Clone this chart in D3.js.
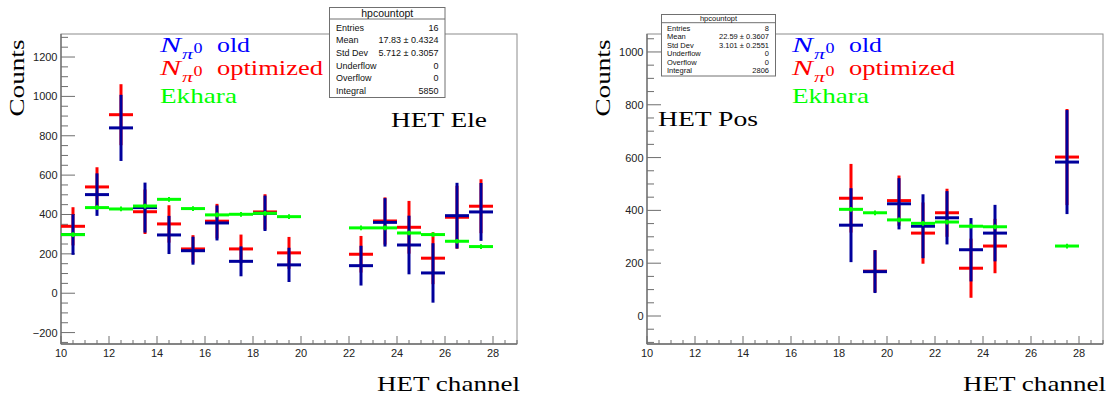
<!DOCTYPE html>
<html>
<head>
<meta charset="utf-8">
<script src="https://cdn.jsdelivr.net/npm/d3@7/dist/d3.min.js"></script>
<style>
html,body{margin:0;padding:0;background:#fff;}
svg{display:block;}
</style>
</head>
<body>
<svg id="c" width="1107" height="396"></svg>
<script>
// ---------- DATA ----------
const binsLeft = [10.5, 11.5, 12.5, 13.5, 14.5, 15.5, 16.5, 17.5, 18.5, 19.5, 22.5, 23.5, 24.5, 25.5, 26.5, 27.5];
const oldLeft = [298, 501, 840, 435, 296, 216, 357, 162, 406, 144, 140, 360, 245, 103, 394, 413];
const oldLeftErr = [103, 108, 168, 127, 97, 71, 89, 76, 90, 87, 101, 123, 149, 151, 167, 147];
const optLeft = [340, 540, 907, 414, 352, 225, 366, 225, 413, 205, 198, 367, 335, 178, 386, 442];
const optLeftErr = [97, 100, 155, 113, 95, 70, 88, 73, 90, 81, 93, 120, 134, 132, 160, 137];
const ekhLeft = [298, 435, 428, 443, 477, 430, 398, 401, 406, 389, 332, 332, 306, 298, 264, 237];
const ekhLeftErr = [12, 12, 12, 12, 12, 12, 12, 12, 12, 12, 12, 12, 12, 12, 12, 12];

const binsRight = [18.5, 19.5, 20.5, 21.5, 22.5, 23.5, 24.5, 27.5];
const oldRight = [344, 168, 425, 340, 372, 251, 314, 583];
const oldRightErr = [140, 81, 97, 121, 101, 120, 107, 197];
const optRight = [446, 170, 437, 314, 391, 181, 265, 602];
const optRightErr = [130, 80, 95, 116, 91, 112, 103, 182];
const ekhRight = [404, 391, 364, 351, 356, 340, 338, 265];
const ekhRightErr = [9, 9, 9, 9, 9, 9, 9, 9];

const xTicks = [10, 12, 14, 16, 18, 20, 22, 24, 26, 28];
const yTicksLeft = [-200, 0, 200, 400, 600, 800, 1000, 1200];
const yTicksRight = [0, 200, 400, 600, 800, 1000];

const statLabels = ["Entries", "Mean", "Std Dev", "Underflow", "Overflow", "Integral"];
const statsLeft = ["16", "17.83 \u00b1 0.4324", "5.712 \u00b1 0.3057", "0", "0", "5850"];
const statsRight = ["8", "22.59 \u00b1 0.3607", "3.101 \u00b1 0.2551", "0", "0", "2806"];
const histName = "hpcountopt";
const panelLabels = ["HET Ele", "HET Pos"];

// ---------- DRAW ----------
const svg = d3.select("#c");
const SERIF = "'Liberation Serif','DejaVu Serif',serif";
const SANS = "'Liberation Sans',Arial,sans-serif";
const BLUE = "#00009c", RED = "#ff0000", GREEN = "#00ff00";
const AX = "#6e6e6e";

function txt(g, x, y, s, o) {
  const t = g.append("text").attr("x", x).attr("y", y).text(s)
    .attr("font-family", o.family || SERIF)
    .attr("font-size", o.size || 21)
    .attr("fill", o.fill || "#000")
    .attr("text-anchor", o.anchor || "start");
  if (o.style) t.attr("font-style", o.style);
  if (o.weight) t.attr("font-weight", o.weight);
  if (o.len) t.attr("textLength", o.len).attr("lengthAdjust", "spacingAndGlyphs");
  return t;
}

function panel(cfg) {
  const g = svg.append("g");
  const x = d3.scaleLinear().domain([10, 29]).range([cfg.x0, cfg.x1]);
  const y = d3.scaleLinear().domain(cfg.ydom).range([cfg.y1, cfg.y0]);

  // frame
  g.append("rect").attr("x", cfg.x0).attr("y", cfg.y0)
    .attr("width", cfg.x1 - cfg.x0).attr("height", cfg.y1 - cfg.y0)
    .attr("fill", "none").attr("stroke", "#8c8c8c").attr("stroke-width", 1);

  // x axis ticks (inside, upward)
  const xMinor = d3.range(10, 29.001, 0.5);
  g.selectAll(null).data(xMinor).enter().append("line")
    .attr("x1", d => x(d)).attr("x2", d => x(d))
    .attr("y1", cfg.y1).attr("y2", d => cfg.y1 - (Math.abs(d % 2) < 1e-6 ? 8 : 4))
    .attr("stroke", AX).attr("stroke-width", 1);
  g.selectAll(null).data(cfg.xTicks).enter().append("text")
    .attr("x", d => x(d)).attr("y", 357).text(d => d)
    .attr("font-family", SANS).attr("font-size", 11).attr("fill", "#222")
    .attr("text-anchor", "middle");

  // y axis ticks (inside, rightward)
  const yMinor = d3.range(Math.ceil(cfg.ydom[0] / 50) * 50, cfg.ydom[1], 50);
  g.selectAll(null).data(yMinor).enter().append("line")
    .attr("x1", cfg.x0).attr("x2", d => cfg.x0 + (Math.abs(d % 200) < 1e-6 ? 14 : 7))
    .attr("y1", d => y(d)).attr("y2", d => y(d))
    .attr("stroke", AX).attr("stroke-width", 1);
  g.selectAll(null).data(cfg.yTicks).enter().append("text")
    .attr("x", cfg.x0 - 3.5).attr("y", d => y(d) + 4).text(d => d < 0 ? "\u2212" + (-d) : d)
    .attr("font-family", SANS).attr("font-size", 11).attr("fill", "#222")
    .attr("text-anchor", "end");

  // x axis line / y axis line darker
  g.append("line").attr("x1", cfg.x0).attr("x2", cfg.x1).attr("y1", cfg.y1).attr("y2", cfg.y1)
    .attr("stroke", AX).attr("stroke-width", 1.3);
  g.append("line").attr("x1", cfg.x0).attr("x2", cfg.x0).attr("y1", cfg.y0).attr("y2", cfg.y1)
    .attr("stroke", AX).attr("stroke-width", 1.3);

  // series
  function series(bins, vals, errs, color, w, ew) {
    const s = g.append("g");
    bins.forEach((b, i) => {
      s.append("line").attr("x1", x(b - 0.5)).attr("x2", x(b + 0.5))
        .attr("y1", y(vals[i])).attr("y2", y(vals[i]))
        .attr("stroke", color).attr("stroke-width", w);
      s.append("line").attr("x1", x(b)).attr("x2", x(b))
        .attr("y1", y(vals[i] - errs[i])).attr("y2", y(vals[i] + errs[i]))
        .attr("stroke", color).attr("stroke-width", ew);
    });
  }
  series(cfg.bins, cfg.opt, cfg.optErr, RED, 3, 3);
  series(cfg.bins, cfg.old, cfg.oldErr, BLUE, 3, 3);
  series(cfg.bins, cfg.ekh, cfg.ekhErr, GREEN, 3, 2);

  // axis titles
  txt(g, cfg.x1 + 3, 391, "HET channel", {size: 21, anchor: "end", len: 143});
  g.append("text").attr("transform", `translate(${cfg.x0 - 37},78) rotate(-90)`)
    .attr("text-anchor", "middle").attr("font-family", SERIF).attr("font-size", 22)
    .attr("textLength", 77).attr("lengthAdjust", "spacingAndGlyphs").text("Counts");

  // panel label
  txt(g, cfg.lab[0], cfg.lab[1], cfg.label, {size: 21, len: cfg.lab[2]});

  // legend
  const lx = cfg.leg;
  const L = [[52, BLUE_T = "#0000ff", "old", 33], [75, RED, "optimized", 106]];
  L.forEach(([by, col, word, wl]) => {
    txt(g, lx, by, "N", {size: 22, style: "italic", fill: col, len: 21});
    txt(g, lx + 22, by + 7, "\u03c0", {size: 15, style: "italic", fill: col, len: 11});
    txt(g, lx + 33.5, by + 1, "0", {size: 14, fill: col, len: 9});
    txt(g, lx + 57, by, word, {size: 21, fill: col, len: wl});
  });
  txt(g, lx, 103, "Ekhara", {size: 21, fill: GREEN, len: 77});

  // stats box
  const sb = cfg.stat;
  const sg = g.append("g");
  sg.append("rect").attr("x", sb.x).attr("y", sb.y).attr("width", sb.w).attr("height", sb.h)
    .attr("fill", "#fff").attr("stroke", "#707070").attr("stroke-width", 1);
  sg.append("line").attr("x1", sb.x).attr("x2", sb.x + sb.w).attr("y1", sb.sep).attr("y2", sb.sep)
    .attr("stroke", "#707070").attr("stroke-width", 1);
  txt(sg, sb.x + sb.w / 2, sb.tb, histName, {family: SANS, size: sb.tfs, anchor: "middle", fill: "#111"});
  statLabels.forEach((lab, i) => {
    const by = sb.r0 + i * sb.dr;
    txt(sg, sb.lx, by, lab, {family: SANS, size: sb.fs, fill: "#111"});
    txt(sg, sb.rx, by, cfg.stats[i], {family: SANS, size: sb.fs, anchor: "end", fill: "#111"});
  });
}

panel({
  x0: 61, x1: 517, y0: 34, y1: 344, ydom: [-258, 1317],
  xTicks: xTicks, yTicks: yTicksLeft,
  bins: binsLeft, old: oldLeft, oldErr: oldLeftErr, opt: optLeft, optErr: optLeftErr,
  ekh: ekhLeft, ekhErr: ekhLeftErr,
  label: panelLabels[0], lab: [391, 127, 96], leg: 160,
  stats: statsLeft,
  stat: {x: 329.5, y: 7.5, w: 115.5, h: 90, sep: 19, tb: 17, tfs: 10.5, fs: 9, r0: 30.5, dr: 12.7, lx: 336, rx: 438.5}
});
panel({
  x0: 647, x1: 1103, y0: 34, y1: 344, ydom: [-106, 1068],
  xTicks: xTicks, yTicks: yTicksRight,
  bins: binsRight, old: oldRight, oldErr: oldRightErr, opt: optRight, optErr: optRightErr,
  ekh: ekhRight, ekhErr: ekhRightErr,
  label: panelLabels[1], lab: [658, 126, 100], leg: 792,
  stats: statsRight,
  stat: {x: 661.5, y: 14.5, w: 114, h: 61.5, sep: 22.7, tb: 21, tfs: 7.5, fs: 7.5, r0: 30.5, dr: 8.5, lx: 667, rx: 769}
});
</script>
</body>
</html>
